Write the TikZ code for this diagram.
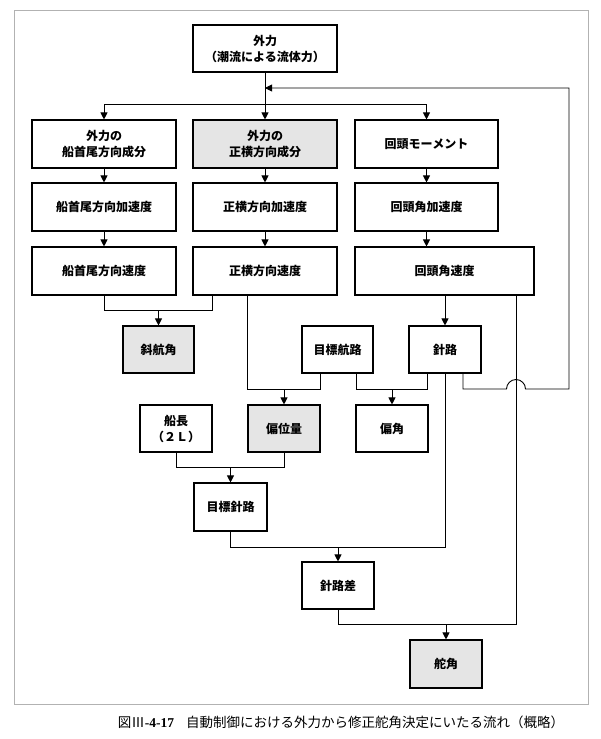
\documentclass[tikz,border=0pt]{standalone}
\usepackage{fontspec}
\setmainfont{Liberation Serif}
\newfontfamily\jp{Noto Sans CJK JP}
\usetikzlibrary{arrows.meta}
\begin{document}
\begin{tikzpicture}[x=1pt,y=-1pt,
  box/.style={draw,line width=1.1pt,minimum height=47pt,minimum width=144pt,inner sep=0pt,align=center,
    font=\jp\bfseries\fontsize{12}{16}\selectfont},
  sbox/.style={box,minimum width=72pt},
  shaded/.style={fill=gray!20},
  conn/.style={line width=0.9pt},
  arr/.style={conn,-{Triangle[length=7pt,width=7pt]}}]
\useasboundingbox (0,0) rectangle (600,739);
\draw[line width=0.8pt,gray!60] (14,10) rectangle (588,704);

% top
\node[box] (top) at (265,48.5) {外力\\（潮流による流体力）};
% row 1
\node[box,minimum height=48pt] (l1) at (104,144) {外力の\\船首尾方向成分};
\node[box,shaded,minimum height=48pt] (m1) at (265,144) {外力の\\正横方向成分};
\node[box,minimum height=48pt,minimum width=143pt] (r1) at (426.5,144) {回頭モーメント};
% row 2
\node[box,minimum height=48pt] (l2) at (104,207) {船首尾方向加速度};
\node[box,minimum height=48pt] (m2) at (265,207) {正横方向加速度};
\node[box,minimum height=48pt,minimum width=143pt] (r2) at (426.5,207) {回頭角加速度};
% row 3
\node[box,minimum height=48pt] (l3) at (104,271) {船首尾方向速度};
\node[box,minimum height=48pt] (m3) at (265,271) {正横方向速度};
\node[box,minimum height=48pt,minimum width=179pt] (r3) at (444.5,271) {回頭角速度};
% lower boxes
\node[sbox,shaded,minimum width=71pt] (drift) at (158.5,349.5) {斜航角};
\node[sbox,minimum width=71pt] (tc) at (337.5,349.5) {目標航路};
\node[sbox] (course) at (445,349.5) {針路};
\node[sbox] (len) at (176,428.5) {船長\\（２Ｌ）};
\node[sbox,shaded] (offset) at (284,428.5) {偏位量};
\node[sbox] (dev) at (392,428.5) {偏角};
\node[sbox,minimum width=73pt,minimum height=48pt] (tcc) at (230.5,507) {目標針路};
\node[sbox] (diff) at (338,585.5) {針路差};
\node[sbox,shaded,minimum height=48pt] (rudder) at (446,664) {舵角};

% junction coordinates
\coordinate (jd) at (265,104);
\coordinate (fb) at (265,88);
\coordinate (jL) at (158.5,310);
\coordinate (jP) at (284,389);
\coordinate (jA) at (392,389);
\coordinate (jT) at (230.5,467);
\coordinate (jD) at (338,547);
\coordinate (jR) at (446,624);
\coordinate (h1) at (506.5,389);
\coordinate (h2) at (569,389);

% top distribution
\draw[arr] (top) -- (m1);
\draw[arr] (jd) -| (l1);
\draw[arr] (jd) -| (r1);
% columns
\draw[arr] (l1) -- (l2);
\draw[arr] (m1) -- (m2);
\draw[arr] (r1) -- (r2);
\draw[arr] (l2) -- (l3);
\draw[arr] (m2) -- (m3);
\draw[arr] (r2) -- (r2 |- r3.north);
\draw[arr] (course |- r3.south) -- (course);
% drift angle
\draw[conn] (l3) |- (jL);
\draw[conn] ([xshift=-53pt]m3.south) |- (jL);
\draw[arr] (jL) -- (drift);
% offset
\draw[conn] ([xshift=-18pt]m3.south) |- (jP);
\draw[conn] ([xshift=-17.5pt]tc.south) |- (jP);
\draw[arr] (jP) -- (offset);
% deviation angle
\draw[conn] ([xshift=18.5pt]tc.south) |- (jA);
\draw[conn] ([xshift=-18pt]course.south) |- (jA);
\draw[arr] (jA) -- (dev);
% target heading
\draw[conn] (len) |- (jT);
\draw[conn] (offset) |- (jT);
\draw[arr] (jT) -- (tcc);
% heading difference
\draw[conn] (tcc) |- (jD);
\draw[conn] (course) |- (jD);
\draw[arr] (jD) -- (diff);
% rudder
\draw[conn] (diff) |- (jR);
\draw[conn] ([xshift=71.5pt]r3.south) |- (jR);
\draw[arr] (jR) -- (rudder);
% feedback
\draw[arr] ([xshift=18pt]course.south) |- (h1) arc[start angle=180,end angle=0,radius=9.5pt] -- (h2) |- (fb);

% caption
\node[font=\fontsize{13.5}{16}\selectfont,inner sep=0pt] (cap) at (341,722)
  {{\jp 図Ⅲ}\textbf{-4-17}\hspace{0.9em}{\jp 自動制御における外力から修正舵角決定にいたる流れ（概略）}};
\end{tikzpicture}
\end{document}
